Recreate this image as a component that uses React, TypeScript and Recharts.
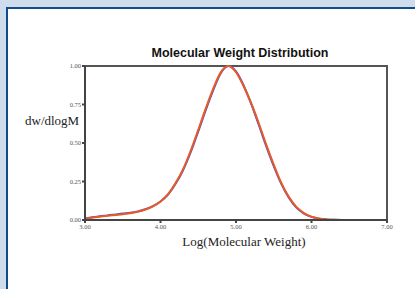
import { LineChart, Line, XAxis, YAxis, ReferenceArea } from "recharts";

// log(M) sample points
const logM = [
  3.0, 3.1, 3.2, 3.3, 3.4, 3.5, 3.6, 3.7, 3.8, 3.9, 4.0, 4.1, 4.2, 4.3, 4.4,
  4.5, 4.6, 4.7, 4.8, 4.9, 5.0, 5.1, 5.2, 5.3, 5.4, 5.5, 5.6, 5.7, 5.8, 5.9,
  6.0, 6.1, 6.2, 6.3, 6.4,
];

// dw/dlogM, sample A (blue)
const blueSeries = [
  0.01, 0.018, 0.025, 0.03, 0.036, 0.042, 0.047, 0.056, 0.07, 0.09, 0.12,
  0.165, 0.235, 0.325, 0.44, 0.575, 0.715, 0.845, 0.955, 1.0, 0.965, 0.875,
  0.755, 0.62, 0.48, 0.35, 0.235, 0.145, 0.08, 0.042, 0.02, 0.009, 0.004,
  0.001, 0.0,
];

// dw/dlogM, sample B (red)
const redSeries = [
  0.008, 0.016, 0.022, 0.028, 0.033, 0.038, 0.044, 0.054, 0.068, 0.089, 0.12,
  0.168, 0.24, 0.33, 0.45, 0.585, 0.725, 0.855, 0.96, 1.0, 0.96, 0.87, 0.76,
  0.63, 0.49, 0.36, 0.24, 0.15, 0.085, 0.045, 0.021, 0.01, 0.004, 0.001, 0.0,
];

const xTicks = [3, 4, 5, 6, 7];
const yTicks = [0, 0.25, 0.5, 0.75, 1];

const data = logM.map((x, i) => ({ x, blue: blueSeries[i], red: redSeries[i] }));

const serif = "'Liberation Serif', 'DejaVu Serif', serif";
const tickStyle = { fontSize: 6.5, fill: "#555", fontFamily: serif };

export default function App() {
  return (
    <div
      style={{
        position: "absolute",
        left: 0,
        top: 0,
        width: 415,
        height: 289,
        background: "#cfdcec",
        overflow: "hidden",
      }}
    >
      {/* white panel */}
      <div
        style={{
          position: "absolute",
          left: 6,
          top: 7,
          width: 420,
          height: 300,
          background: "#fff",
          borderLeft: "2px solid #114b8a",
          borderTop: "2px solid #114b8a",
        }}
      />
      <div
        style={{
          position: "absolute",
          left: 0,
          top: 0,
        }}
      >
        <LineChart
          width={415}
          height={289}
          data={data}
          margin={{ top: 66, right: 28, bottom: 49, left: 55 }}
        >
          <XAxis
            dataKey="x"
            type="number"
            domain={[3, 7]}
            ticks={xTicks}
            tickFormatter={(v: number) => v.toFixed(2)}
            tick={tickStyle}
            tickSize={3}
            tickMargin={1}
            height={20}
            stroke="#444"
            strokeWidth={2}
            allowDataOverflow
          />
          <YAxis
            type="number"
            domain={[0, 1]}
            ticks={yTicks}
            tickFormatter={(v: number) => v.toFixed(2)}
            tick={tickStyle}
            tickSize={3}
            tickMargin={1}
            width={30}
            stroke="#444"
            strokeWidth={2}
          />
          <ReferenceArea
            x1={3}
            x2={7}
            y1={0}
            y2={1}
            fill="none"
            stroke="#555"
            strokeWidth={2}
          />
          <Line
            type="monotone"
            dataKey="blue"
            stroke="#4b52c4"
            strokeWidth={2}
            dot={false}
            isAnimationActive={false}
          />
          <Line
            type="monotone"
            dataKey="red"
            stroke="#ea5a26"
            strokeWidth={2}
            dot={false}
            isAnimationActive={false}
          />
          <text
            x={240}
            y={57}
            textAnchor="middle"
            fontFamily="'Liberation Sans', Arial, sans-serif"
            fontWeight={700}
            fontSize={12.5}
            fill="#111"
          >
            Molecular Weight Distribution
          </text>
          <text
            x={25}
            y={125}
            fontFamily={serif}
            fontSize={13}
            fill="#222"
          >
            dw/dlogM
          </text>
          <text
            x={244}
            y={246}
            textAnchor="middle"
            fontFamily={serif}
            fontSize={13}
            fill="#222"
          >
            Log(Molecular Weight)
          </text>
        </LineChart>
      </div>
    </div>
  );
}
